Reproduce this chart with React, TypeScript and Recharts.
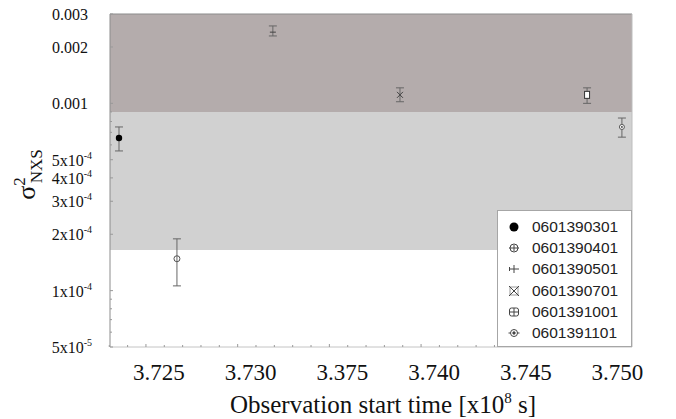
import React from "react";
import {
  ScatterChart,
  Scatter,
  XAxis,
  YAxis,
  ErrorBar,
  ReferenceArea,
  ReferenceLine,
} from "recharts";

// 관측 ID / 시작 시각 (x10^8 s) / σ²_NXS 값과 오차 범위
const obsIds = [
  "0601390301",
  "0601390401",
  "0601390501",
  "0601390701",
  "0601391001",
  "0601391101",
];
const startTimes = [3.72353, 3.72669, 3.73192, 3.73885, 3.74905, 3.75095];
const sigmaNxs = [6.53e-4, 1.48e-4, 2.4e-3, 1.11e-3, 1.11e-3, 7.48e-4];
const sigmaUpper = [7.48e-4, 1.89e-4, 2.59e-3, 1.21e-3, 1.21e-3, 8.35e-4];
const sigmaLower = [5.57e-4, 1.06e-4, 2.29e-3, 1.02e-3, 1.0e-3, 6.6e-4];
const markerKinds = ["filled", "open", "plus", "cross", "square", "dotted"];

// 배경 밴드 (y 범위)
const bandDark = [9.0e-4, 3e-3];
const bandLight = [1.65e-4, 9.0e-4];

// 축 눈금
const xDomain = [3.72304, 3.7515];
const xMajorTicks = [3.725, 3.73, 3.735, 3.74, 3.745, 3.75];
const xTickLabels = ["3.725", "3.730", "3.375", "3.740", "3.745", "3.750"];
const yDomain = [5e-5, 3e-3];
const yMajorTicks = [5e-5, 1e-4, 2e-4, 3e-4, 4e-4, 5e-4, 1e-3, 2e-3, 3e-3];
const yTickLabels = [
  "5x10^-5",
  "1x10^-4",
  "2x10^-4",
  "3x10^-4",
  "4x10^-4",
  "5x10^-4",
  "0.001",
  "0.002",
  "0.003",
];
const yMinorTicks = [6e-5, 7e-5, 8e-5, 9e-5, 6e-4, 7e-4, 8e-4, 9e-4];

// 보조 눈금 0.001 간격
const xMinorTicks: number[] = [];
for (let k = 0; k <= 28; k++) {
  const v = Math.round((3.723 + k * 0.001) * 1000) / 1000;
  if (v <= xDomain[1]) xMinorTicks.push(v);
}

const SERIF = "Liberation Serif, DejaVu Serif, serif";
const SANS = "Liberation Sans, Arial, sans-serif";
const serifStyle = { fontFamily: SERIF };

function Marker({ kind, cx, cy }: { kind: string; cx: number; cy: number }) {
  switch (kind) {
    case "filled":
      return <circle cx={cx} cy={cy} r={3.2} fill="#000" />;
    case "open":
      return <circle cx={cx} cy={cy} r={3} fill="none" stroke="#555" />;
    case "plus":
      return <line x1={cx - 3} x2={cx + 3} y1={cy} y2={cy} stroke="#444" />;
    case "cross":
      return (
        <g stroke="#444">
          <line x1={cx - 3} x2={cx + 3} y1={cy - 3} y2={cy + 3} />
          <line x1={cx - 3} x2={cx + 3} y1={cy + 3} y2={cy - 3} />
        </g>
      );
    case "square":
      return <rect x={cx - 2.5} y={cy - 3.5} width={5} height={7} fill="#fff" stroke="#333" />;
    default:
      return (
        <g>
          <circle cx={cx} cy={cy} r={2.5} fill="#fff" stroke="#555" />
          <circle cx={cx} cy={cy} r={0.9} fill="#333" />
        </g>
      );
  }
}

function LegendSymbol({ kind }: { kind: string }) {
  const c = 6;
  const st = "#444";
  let body: React.ReactNode;
  switch (kind) {
    case "filled":
      body = <circle cx={c} cy={c} r={4.5} fill="#000" />;
      break;
    case "open":
      body = (
        <g stroke={st} fill="none">
          <circle cx={c} cy={c} r={4} />
          <line x1={1} x2={11} y1={c} y2={c} />
          <line x1={c} x2={c} y1={3} y2={9} />
        </g>
      );
      break;
    case "plus":
      body = (
        <g stroke={st}>
          <line x1={1} x2={11} y1={c} y2={c} />
          <line x1={c} x2={c} y1={2} y2={10} />
          <line x1={1.5} x2={1.5} y1={4} y2={8} />
        </g>
      );
      break;
    case "cross":
      body = (
        <g stroke={st} fill="none">
          <rect x={2} y={2} width={8} height={8} stroke="#999" />
          <line x1={1} x2={11} y1={1} y2={11} />
          <line x1={1} x2={11} y1={11} y2={1} />
        </g>
      );
      break;
    case "square":
      body = (
        <g stroke={st} fill="none">
          <rect x={1.5} y={2} width={9} height={8} rx={2} />
          <line x1={1.5} x2={10.5} y1={c} y2={c} />
          <line x1={c} x2={c} y1={2} y2={10} />
        </g>
      );
      break;
    default:
      body = (
        <g stroke={st} fill="none">
          <circle cx={c} cy={c} r={3.5} />
          <circle cx={c} cy={c} r={1.2} fill={st} />
          <line x1={0.5} x2={2.5} y1={c} y2={c} />
          <line x1={9.5} x2={11.5} y1={c} y2={c} />
        </g>
      );
  }
  return (
    <svg width={12} height={12} style={{ display: "block" }}>
      {body}
    </svg>
  );
}

function XTick(props: any) {
  const { x, y, payload } = props;
  const i = xMajorTicks.findIndex((v) => Math.abs(v - payload.value) < 1e-7);
  const major = i >= 0;
  return (
    <g>
      <line x1={x} x2={x} y1={y} y2={y - (major ? 3 : 2)} stroke="#999" />
      {major && (
        <text
          x={x + 13}
          y={y + 33}
          textAnchor="middle"
          fontSize={23}
          fontFamily={SERIF}
          style={serifStyle}
          fill="#111"
        >
          {xTickLabels[i]}
        </text>
      )}
    </g>
  );
}

function YTick(props: any) {
  const { x, y, payload } = props;
  const i = yMajorTicks.findIndex((v) => Math.abs(v - payload.value) / v < 1e-6);
  const major = i >= 0;
  let label: React.ReactNode = null;
  if (major) {
    const [base, exp] = yTickLabels[i].split("^");
    label = (
      <text
        x={x - (exp ? 18 : 22)}
        y={y + 6}
        textAnchor="end"
        fontSize={16}
        fontFamily={SERIF}
        style={serifStyle}
        fill="#111"
      >
        {base}
        {exp && (
          <tspan fontSize={10} dy={-7}>
            {exp}
          </tspan>
        )}
      </text>
    );
  }
  return (
    <g>
      <line x1={x} x2={x + (major ? 3 : 2)} y1={y} y2={y} stroke="#999" />
      {label}
    </g>
  );
}

function YTitle(props: any) {
  const vb = props.viewBox || { x: 0, y: 14, width: 110, height: 333 };
  const cx = vb.x + 35;
  const cy = vb.y + vb.height / 2 - 6;
  return (
    <text
      x={cx}
      y={cy}
      transform={`rotate(-90, ${cx}, ${cy})`}
      textAnchor="middle"
      fontFamily={SERIF}
      style={serifStyle}
      fill="#111"
    >
      <tspan fontSize={26}>σ</tspan>
      <tspan fontSize={17} dy={-10}>
        2
      </tspan>
      <tspan fontSize={17} dx={-6} dy={17}>
        NXS
      </tspan>
    </text>
  );
}

function XTitle(props: any) {
  const vb = props.viewBox || { x: 110, y: 347, width: 522, height: 72 };
  const cx = vb.x + vb.width / 2 + 12;
  return (
    <text
      x={cx}
      y={vb.y + 66}
      textAnchor="middle"
      fontFamily={SERIF}
      style={serifStyle}
      fontSize={25}
      fill="#111"
    >
      Observation start time [x10
      <tspan fontSize={15} dy={-10}>
        8
      </tspan>
      <tspan dy={10}> s]</tspan>
    </text>
  );
}

const seriesData = obsIds.map((id, i) => ({
  id,
  kind: markerKinds[i],
  data: [
    {
      x: startTimes[i],
      y: sigmaNxs[i],
      err: [sigmaNxs[i] - sigmaLower[i], sigmaUpper[i] - sigmaNxs[i]],
    },
  ],
}));

export default function App() {
  return (
    <div style={{ position: "absolute", left: 0, top: 0, width: 676, height: 419 }}>
      <ScatterChart
        width={676}
        height={419}
        margin={{ top: 14, right: 44, bottom: 0, left: 0 }}
        style={serifStyle}
      >
        <ReferenceArea
          y1={bandLight[0]}
          y2={bandLight[1]}
          fill="#d1d1d1"
          fillOpacity={1}
          stroke="none"
        />
        <ReferenceArea
          y1={bandDark[0]}
          y2={bandDark[1]}
          fill="#b4acac"
          fillOpacity={1}
          stroke="none"
        />
        <ReferenceLine y={yDomain[1]} stroke="#8c8c8c" strokeWidth={1.2} />
        <ReferenceLine x={xDomain[1]} stroke="#bdbdbd" />
        <XAxis
          type="number"
          dataKey="x"
          domain={xDomain}
          ticks={xMinorTicks}
          allowDataOverflow
          height={72}
          tickLine={false}
          tickSize={0}
          tickMargin={0}
          interval={0}
          axisLine={{ stroke: "#c4c4c4" }}
          tick={<XTick />}
          label={<XTitle />}
        />
        <YAxis
          type="number"
          dataKey="y"
          scale="log"
          domain={yDomain}
          ticks={[...yMajorTicks, ...yMinorTicks]}
          allowDataOverflow
          width={110}
          tickLine={false}
          tickSize={0}
          tickMargin={0}
          interval={0}
          axisLine={{ stroke: "#8c8c8c" }}
          tick={<YTick />}
          label={<YTitle />}
        />
        {seriesData.map((s) => (
          <Scatter
            key={s.id}
            name={s.id}
            data={s.data}
            isAnimationActive={false}
            shape={(p: any) => <Marker kind={s.kind} cx={p.cx} cy={p.cy} />}
          >
            <ErrorBar
              dataKey="err"
              direction="y"
              width={4}
              stroke="#666"
              strokeWidth={1}
              isAnimationActive={false}
            />
          </Scatter>
        ))}
      </ScatterChart>
      <div
        style={{
          position: "absolute",
          left: 497,
          top: 210,
          width: 135,
          height: 137,
          boxSizing: "border-box",
          border: "1px solid #a6a6a6",
          background: "#fff",
          paddingTop: 5,
          fontFamily: SANS,
          fontSize: 15.5,
          color: "#222",
        }}
      >
        {seriesData.map((s) => (
          <div
            key={s.id}
            style={{ display: "flex", alignItems: "center", height: 21.3, paddingLeft: 10 }}
          >
            <LegendSymbol kind={s.kind} />
            <span style={{ marginLeft: 12 }}>{s.id}</span>
          </div>
        ))}
      </div>
    </div>
  );
}
